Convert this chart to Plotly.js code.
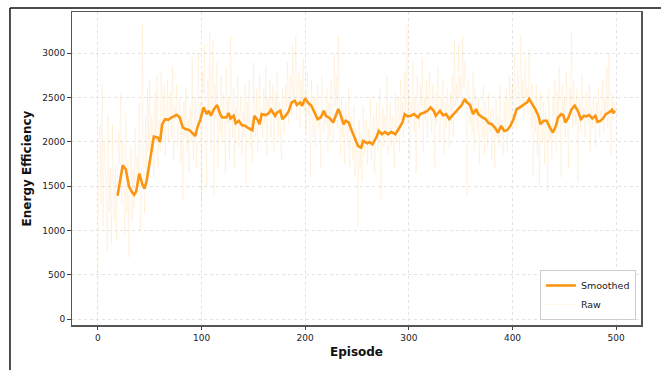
<!DOCTYPE html>
<html>
<head>
<meta charset="utf-8">
<script src="https://cdn.plot.ly/plotly-3.0.1.min.js"></script>
<style>
  html, body { margin: 0; padding: 0; background: #ffffff; }
  #chart { width: 661px; height: 370px; }
</style>
</head>
<body>
<div id="chart"></div>
<script>
// Raw energy efficiency per episode (episodes 0..499)
const rawEfficiency = [
  100, 1850, 2200, 1300, 2650, 1050, 2000, 1650, 1500, 760,
  2300, 1200, 1700, 850, 2200, 1450, 1100, 1700, 900, 1600,
  2100, 1750, 2550, 1300, 2000, 1600, 950, 2350, 1200, 1800,
  700, 1500, 1950, 1100, 1700, 1250, 2150, 1400, 1850, 1600,
  2450, 1000, 1300, 3320, 1650, 1200, 2300, 1500, 2600, 1900,
  2700, 1750, 2300, 2100, 1600, 2550, 2000, 2750, 1700, 2250,
  1900, 2800, 2450, 2100, 2650, 1850, 2300, 2700, 2000, 2350,
  2550, 2050, 2850, 1800, 2400, 2250, 2650, 1950, 2300, 2500,
  1750, 2300, 1350, 2450, 2050, 2600, 1900, 2250, 1650, 2400,
  2000, 2950, 1800, 2150, 2500, 1700, 2350, 3000, 2200, 2450,
  1300, 2800, 2550, 3100, 2050, 1500, 2700, 2350, 3250, 1900,
  2500, 3150, 1400, 2650, 2250, 2900, 1700, 2400, 2100, 2750,
  2000, 2550, 2300, 1650, 2850, 2200, 2500, 1800, 3200, 2300,
  2050, 2600, 1700, 2400, 2150, 2750, 1950, 2300, 2500, 1850,
  2350, 2050, 2650, 1500, 2450, 2200, 2700, 1950, 2250, 1750,
  2900, 2300, 2050, 2600, 1900, 2450, 2750, 2150, 2350, 2050,
  2600, 2200, 2850, 1850, 2500, 2300, 2700, 2050, 2400, 2650,
  1900, 2550, 2250, 2800, 2050, 2450, 2150, 1800, 2600, 2350,
  2100, 2650, 2400, 2900, 2200, 2550, 2750, 2300, 3100, 2450,
  2600, 3200, 2250, 2500, 2800, 2150, 2700, 2400, 2950, 2350,
  2550, 2100, 2800, 2300, 2450, 1600, 2700, 2250, 2050, 2500,
  1950, 2400, 2650, 2150, 2300, 1700, 2750, 2500, 2100, 2350,
  2200, 2600, 1900, 2450, 2050, 2700, 2300, 2000, 3000, 2400,
  2750, 2150, 3200, 2350, 1850, 2500, 2050, 2300, 1750, 2450,
  2250, 1950, 2600, 1700, 2300, 2050, 1800, 2400, 1600, 2150,
  1900, 1044, 2250, 1700, 2100, 1550, 2400, 1850, 2000, 2250,
  1750, 2150, 1950, 2500, 1800, 2050, 2300, 1650, 2200, 2450,
  1900, 2250, 2600, 1350, 2100, 2400, 1950, 2300, 2050, 2750,
  1850, 2200, 2450, 1950, 2300, 2100, 1700, 2550, 2000, 2350,
  2500, 1900, 2700, 2250, 2450, 2050, 2800, 2350, 3320, 2200,
  2600, 1800, 2450, 2300, 2900, 2100, 2500, 1650, 2750, 2300,
  2150, 2650, 2400, 2950, 1900, 2500, 2250, 2700, 2050, 2550,
  2800, 2300, 2100, 2650, 2400, 1700, 2550, 2200, 2850, 2350,
  2000, 2500, 2250, 2700, 1850, 2450, 2150, 2600, 2300, 1950,
  2550, 2200, 2750, 2050, 3150, 2400, 2650, 2300, 3100, 2500,
  2750, 2350, 3200, 2600, 2900, 2450, 1400, 2700, 2550, 2200,
  2450, 2100, 2800, 1900, 2600, 2350, 2150, 2500, 1750, 2400,
  2300, 2050, 2650, 1850, 2450, 2200, 1950, 2550, 2100, 2350,
  1800, 2400, 2250, 1700, 2500, 2050, 2300, 1950, 2650, 2150,
  2250, 1850, 2450, 2100, 2600, 1900, 2350, 2750, 2200, 2500,
  2650, 2300, 3000, 2450, 2150, 2800, 2550, 2350, 3200, 2400,
  2700, 2250, 2950, 2500, 2600, 2300, 3050, 2450, 2150, 2650,
  1600, 2400, 2100, 2650, 1850, 2300, 1500, 2550, 2200, 2000,
  2450, 1750, 2350, 2100, 1450, 2600, 2000, 2250, 1800, 2500,
  2300, 2700, 1900, 2550, 2150, 2850, 2350, 1600, 2650, 2200,
  2500, 2050, 2800, 2300, 1700, 2600, 2400, 3250, 2150, 2700,
  2450, 2200, 2600, 1550, 2350, 2500, 2100, 2750, 2250, 2400,
  2050, 2550, 2300, 2200, 2650, 1900, 2400, 2150, 2500, 2300,
  1950, 2450, 2200, 2600, 2050, 2350, 2250, 2700, 2100, 2500,
  2300, 2850, 2150, 3000, 2400, 1850, 2550, 2250, 2450, 2350
];
const rawEpisodes = rawEfficiency.map((_, i) => i);

// Smoothed curve, sampled at these episodes
const smoothEpisodes = [
  19, 24, 27, 30, 33, 35, 37, 40, 43, 45,
  47, 50, 54, 58, 60, 62, 65, 68, 71, 76,
  79, 82, 85, 88, 91, 94, 96, 99, 102, 105,
  107, 109, 112, 115, 118, 120, 124, 126, 128, 131,
  133, 136, 139, 142, 146, 149, 151, 154, 156, 158,
  162, 165, 167, 171, 173, 176, 178, 181, 184, 187,
  190, 192, 195, 197, 200, 203, 206, 209, 212, 215,
  218, 220, 224, 227, 230, 232, 234, 237, 239, 242,
  245, 248, 251, 254, 256, 260, 262, 265, 269, 271,
  274, 277, 280, 283, 287, 291, 294, 296, 299, 302,
  305, 309, 311, 315, 318, 321, 324, 326, 330, 333,
  336, 339, 342, 345, 348, 351, 354, 356, 359, 362,
  365, 367, 371, 374, 377, 380, 383, 386, 389, 392,
  395, 398, 401, 404, 407, 411, 414, 416, 418, 422,
  425, 427, 430, 433, 436, 439, 442, 444, 447, 449,
  451, 454, 457, 460, 463, 466, 469, 471, 474, 477,
  480, 482, 485, 488, 490, 493, 496, 497, 499
];
const smoothEfficiency = [
  1394, 1739, 1689, 1500, 1432, 1405, 1443, 1644, 1519, 1473,
  1557, 1765, 2061, 2049, 2000, 2200, 2258, 2250, 2276, 2307,
  2276, 2163, 2144, 2136, 2106, 2068, 2163, 2258, 2390, 2314,
  2352, 2295, 2371, 2417, 2314, 2276, 2276, 2326, 2265, 2295,
  2212, 2239, 2189, 2182, 2152, 2133, 2295, 2250, 2200, 2314,
  2303, 2326, 2364, 2295, 2333, 2352, 2258, 2295, 2345, 2447,
  2466, 2417, 2447, 2409, 2492, 2439, 2409, 2333, 2258, 2276,
  2352, 2295, 2265, 2220, 2314, 2371, 2314, 2200, 2239, 2220,
  2125, 2030, 1955, 1936, 2011, 1985, 2000, 1973, 2061, 2125,
  2087, 2114, 2087, 2114, 2087, 2163, 2227, 2314, 2288, 2295,
  2314, 2276, 2314, 2333, 2352, 2390, 2352, 2295, 2352, 2303,
  2314, 2258, 2295, 2333, 2371, 2417, 2485, 2447, 2417, 2314,
  2371, 2314, 2276, 2258, 2212, 2200, 2163, 2106, 2182, 2125,
  2136, 2182, 2258, 2371, 2390, 2428, 2447, 2485, 2447, 2371,
  2295, 2200, 2239, 2239, 2163, 2106, 2189, 2276, 2314, 2303,
  2220, 2276, 2371, 2409, 2352, 2258, 2295, 2288, 2303, 2265,
  2295, 2227, 2239, 2276, 2314, 2333, 2364, 2326, 2352
];

const xTicks = [0, 100, 200, 300, 400, 500];
const yTicks = [0, 500, 1000, 1500, 2000, 2500, 3000];

const FONT = 'DejaVu Sans, sans-serif';

const traces = [
  {
    name: 'Raw',
    x: rawEpisodes,
    y: rawEfficiency,
    type: 'scatter',
    mode: 'lines',
    line: { color: 'rgba(255,160,0,0.09)', width: 1 }
  },
  {
    name: 'Smoothed',
    x: smoothEpisodes,
    y: smoothEfficiency,
    type: 'scatter',
    mode: 'lines',
    line: { color: '#fb9612', width: 2.6 }
  }
];

const axisCommon = {
  showline: true,
  mirror: true,
  linecolor: '#555555',
  linewidth: 1.5,
  ticks: 'outside',
  ticklen: 3.5,
  tickwidth: 1,
  tickcolor: '#444',
  tickfont: { family: FONT, size: 9, color: '#222' },
  showgrid: true,
  gridcolor: '#e3e3e3',
  griddash: 'dot',
  gridwidth: 1,
  zeroline: false
};

const layout = {
  width: 661,
  height: 370,
  margin: { l: 72, r: 20, t: 12, b: 45 },
  paper_bgcolor: '#ffffff',
  plot_bgcolor: '#ffffff',
  font: { family: FONT, color: '#111' },
  showlegend: true,
  legend: {
    x: 0.991, y: 0.016, xanchor: 'right', yanchor: 'bottom',
    traceorder: 'reversed',
    bgcolor: 'rgba(255,255,255,0.9)',
    bordercolor: '#cccccc',
    borderwidth: 1,
    font: { family: FONT, size: 9.5, color: '#222' },
    itemwidth: 30,
    tracegroupgap: 0
  },
  xaxis: Object.assign({}, axisCommon, {
    range: [-24.95, 523.95],
    tickvals: xTicks,
    ticktext: xTicks.map(String),
    title: { text: '<b>Episode</b>', font: { family: FONT, size: 12, color: '#111' }, standoff: 6 }
  }),
  yaxis: Object.assign({}, axisCommon, {
    range: [-64, 3466],
    tickvals: yTicks,
    ticktext: yTicks.map(String),
    title: { text: '<b>Energy Efficiency</b>', font: { family: FONT, size: 12, color: '#111' }, standoff: 8 }
  }),
  shapes: [
    // outer frame lines (top and left)
    { type: 'line', xref: 'paper', yref: 'paper', x0: -0.109, x1: 1.04, y0: 1.0128, y1: 1.0128,
      line: { color: '#111', width: 1.5 } },
    { type: 'line', xref: 'paper', yref: 'paper', x0: -0.109, x1: -0.109, y0: -0.15, y1: 1.0128,
      line: { color: '#111', width: 1.5 } }
  ]
};

Plotly.newPlot('chart', traces, layout, { displayModeBar: false, staticPlot: true });
</script>
</body>
</html>
